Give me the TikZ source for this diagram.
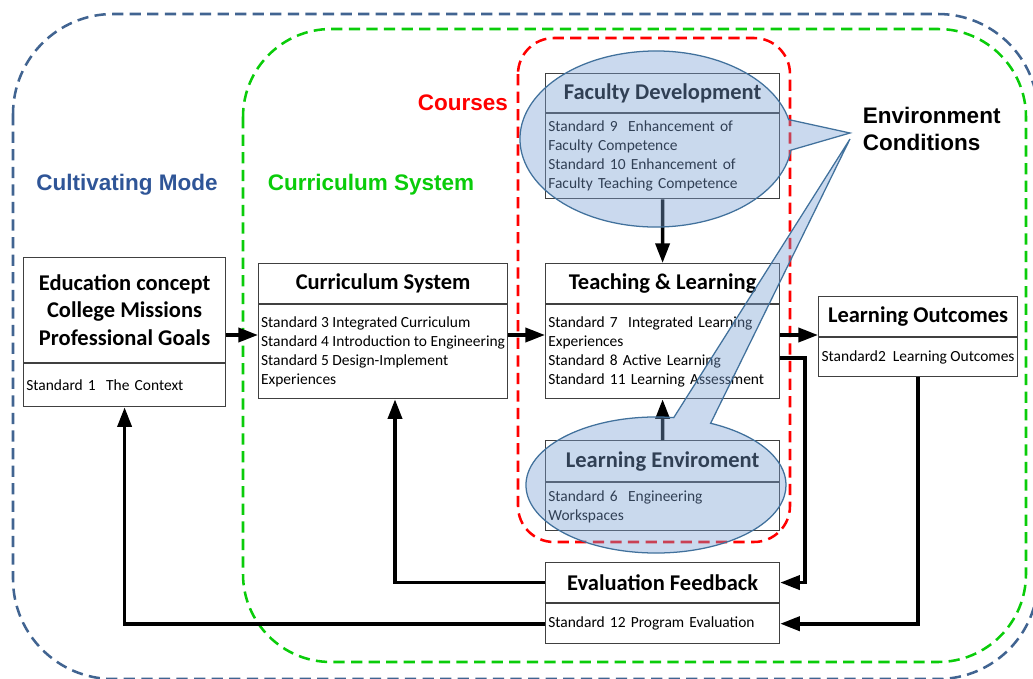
\documentclass[tikz,border=0pt]{standalone}
\usepackage{fontspec}
\setmainfont{Carlito}
\newfontfamily\labelfont{Liberation Sans}
\usetikzlibrary{arrows.meta,shapes.callouts}
\definecolor{modeblue}{RGB}{47,85,151}
\definecolor{dashblue}{RGB}{65,100,145}
\definecolor{framegreen}{RGB}{10,204,10}
\definecolor{boxgray}{RGB}{64,64,64}
\definecolor{bubblefill}{RGB}{122,160,212}
\definecolor{bubbleline}{RGB}{65,113,156}
\tikzset{
  hd/.style={draw=boxgray, line width=0.8pt, fill=white, inner sep=0pt, anchor=north west, align=center, font=\fontsize{16}{19.5}\selectfont\bfseries},
  bd/.style={draw=boxgray, line width=0.8pt, fill=white, inner xsep=0.07cm, inner ysep=0pt, anchor=north west, align=left, font=\fontsize{11}{13.5}\selectfont},
  fb/.style={line width=2.6pt, -{Triangle[length=14pt,width=10pt]}},
  zone/.style={dash pattern=on 8pt off 4.5pt, line width=1.8pt},
  zonelabel/.style={font=\labelfont\fontsize{16}{19.5}\selectfont\bfseries},
  bubble/.style={ellipse callout, draw=bubbleline, line width=0.9pt, fill=bubblefill, fill opacity=0.4, draw opacity=1, inner sep=0pt}
}
\begin{document}
\begin{tikzpicture}[x=0.025cm, y=-0.025cm]
\useasboundingbox (0,0) rectangle (1033,678);
\clip (0,0) rectangle (1033,678);

\draw[zone, dashblue, rounded corners=2.5cm] (13,14) rectangle (1038,679);
\draw[zone, framegreen, rounded corners=2.2cm] (243,29) rectangle (1026,662);
\draw[zone, red, rounded corners=0.9cm] (518,38) rectangle (790,542);

\node[zonelabel, text=modeblue] (mode) at (127,185) {Cultivating Mode};
\node[zonelabel, text=framegreen] (cslabel) at (371,185) {Curriculum System};
\node[zonelabel, text=red] (courses) at (463,103) {Courses};
\node[zonelabel, align=left, anchor=west] (cond) at (858,129) {Environment\\Conditions};

\node[hd, minimum width=5.05cm, minimum height=2.625cm] (edu-t) at (23,257) {Education concept\\College Missions\\Professional Goals};
\node[bd, text width=4.91cm, minimum height=1.075cm] (edu-b) at (edu-t.south west) {Standard 1\ \ The Context};

\node[hd, minimum width=6.225cm, minimum height=1cm] (cur-t) at (258,263) {Curriculum System};
\node[bd, inner xsep=0.5pt, minimum width=6.225cm, minimum height=2.35cm] (cur-b) at (cur-t.south west) {Standard 3 Integrated Curriculum\\Standard 4 Introduction to Engineering\\Standard 5 Design-Implement\\Experiences};

\node[hd, minimum width=5.85cm, minimum height=1cm] (tl-t) at (545,263) {Teaching \& Learning};
\node[bd, text width=5.71cm, minimum height=2.35cm] (tl-b) at (tl-t.south west) {Standard 7\ \ Integrated Learning\\Experiences\\Standard 8 Active Learning\\Standard 11 Learning Assessment};

\node[hd, minimum width=5.85cm, minimum height=0.975cm] (fac-t) at (545,73) {Faculty Development};
\node[bd, text width=5.71cm, minimum height=2.125cm] (fac-b) at (fac-t.south west) {Standard 9\ \ Enhancement of\\Faculty Competence\\Standard 10 Enhancement of\\Faculty Teaching Competence};

\node[hd, minimum width=5.85cm, minimum height=1.025cm] (env-t) at (545,440) {Learning Enviroment};
\node[bd, text width=5.71cm, minimum height=1.2cm] (env-b) at (env-t.south west) {Standard 6\ \ Engineering\\Workspaces};

\node[hd, minimum width=4.975cm, minimum height=1cm] (lo-t) at (818,296) {Learning Outcomes};
\node[bd, inner xsep=0.5pt, minimum width=4.975cm, minimum height=0.975cm] (lo-b) at (lo-t.south west) {Standard2\ \ Learning Outcomes};

\node[hd, minimum width=5.85cm, minimum height=1cm] (ev-t) at (545,562) {Evaluation Feedback};
\node[bd, text width=5.71cm, minimum height=1cm] (ev-b) at (ev-t.south west) {Standard 12 Program Evaluation};

\coordinate (ymain) at (0,335);
\draw[fb] (edu-t.east |- ymain) -- (cur-b.west |- ymain);
\draw[fb] (cur-b.east |- ymain) -- (tl-b.west |- ymain);
\draw[fb] (tl-b.east |- ymain) -- (lo-t.west |- ymain);
\draw[fb] (fac-b.south) -- (tl-t.north);
\draw[fb] (env-t.north) -- (tl-b.south);
\coordinate (fbturn) at (805,358);
\draw[fb] (tl-b.east |- fbturn) -- (fbturn) |- (ev-t.east);
\draw[fb] (lo-b.south) |- (ev-b.east);
\coordinate (curin) at (395,0);
\draw[fb] (ev-t.west) -| (curin |- cur-b.south);
\draw[fb] (ev-b.west) -| (edu-b.south);

\coordinate (tip1) at (850,133);
\coordinate (tip2) at (850,139);
\node[bubble, minimum width=6.8cm, minimum height=4.4cm, callout absolute pointer={(tip1)}, callout pointer arc=20] (fac-c) at (656,139) {};
\node[bubble, minimum width=6.5cm, minimum height=3.4cm, callout absolute pointer={(tip2)}, callout pointer arc=17] (env-c) at (656,485) {};
\end{tikzpicture}
\end{document}
